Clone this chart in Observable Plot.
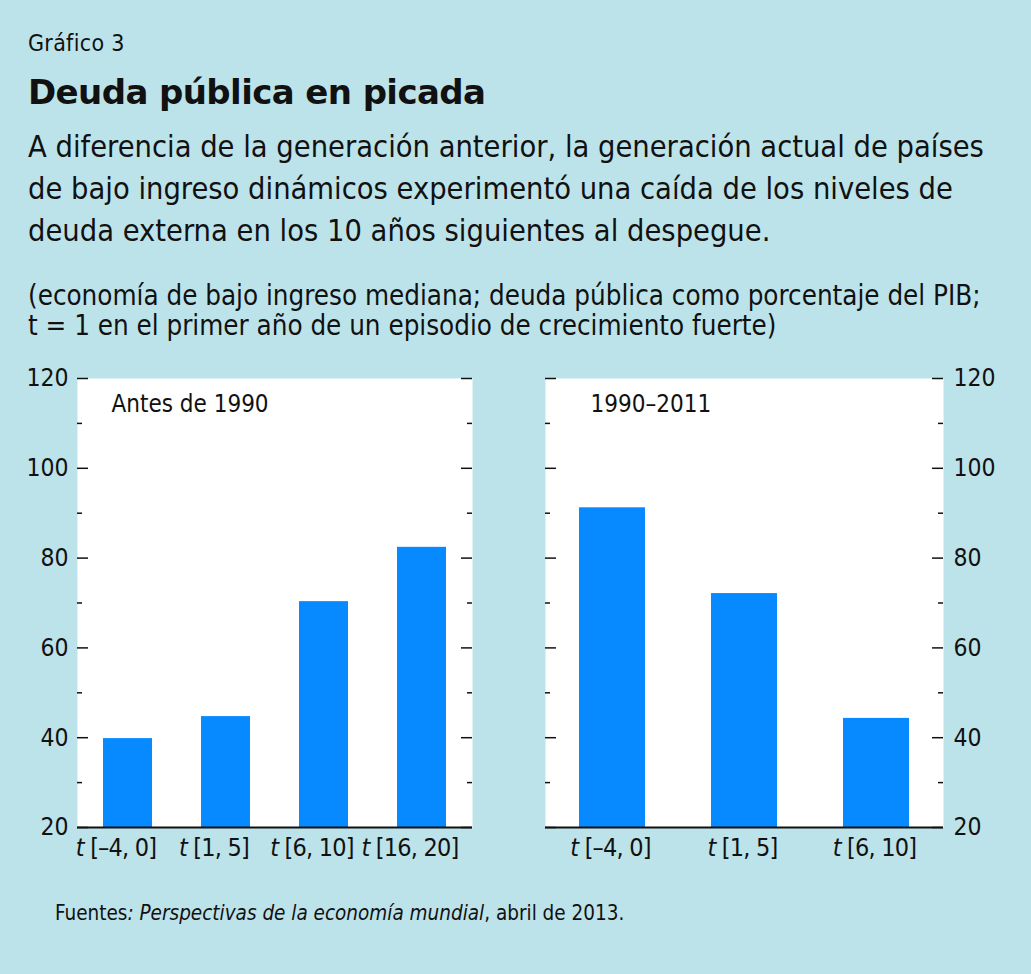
<!DOCTYPE html>
<html lang="es">
<head>
<meta charset="utf-8">
<script src="https://cdn.jsdelivr.net/npm/d3@7"></script>
<script src="https://cdn.jsdelivr.net/npm/@observablehq/plot@0.6"></script>
<style>
  html, body { margin: 0; padding: 0; }
  body { background: #bde3ea; }
  #page {
    position: relative; width: 1031px; height: 974px; background: #bde3ea;
    font-family: "DejaVu Sans Condensed", "Liberation Sans Narrow", sans-serif;
    color: #111;
  }
  .abs { position: absolute; white-space: nowrap; }
  #kicker { left: 28px; top: 30px; font-size: 23px; line-height: 26px; letter-spacing: 0.3px; }
  #title { left: 28px; top: 72px; font-family: "DejaVu Sans", sans-serif; font-weight: bold; font-size: 34px; line-height: 40px; letter-spacing: -0.6px; }
  #subtitle { left: 28px; top: 126px; font-size: 30.5px; line-height: 42px; }
  #note { left: 28px; top: 280px; font-size: 27.5px; line-height: 30px; }
  #source { left: 55px; top: 900px; font-size: 20.5px; line-height: 26px; }
  .panel { position: absolute; top: 350px; }
  #left { left: 0; }
  #right { left: 520px; }
</style>
</head>
<body>
<div id="page">
  <div id="kicker" class="abs">Gráfico 3</div>
  <div id="title" class="abs">Deuda pública en picada</div>
  <div id="subtitle" class="abs">A diferencia de la generación anterior, la generación actual de países<br>de bajo ingreso dinámicos experimentó una caída de los niveles de<br>deuda externa en los 10 años siguientes al despegue.</div>
  <div id="note" class="abs">(economía de bajo ingreso mediana; deuda pública como porcentaje del PIB;<br>t = 1 en el primer año de un episodio de crecimiento fuerte)</div>
  <div id="left" class="panel"></div>
  <div id="right" class="panel"></div>
  <div id="source" class="abs">Fuentes<i>: Perspectivas de la economía mundial</i>, abril de 2013.</div>
</div>
<script>
// Median public debt, % of GDP, by window around the start of a strong growth episode
const periodsBefore1990 = ["t [–4, 0]", "t [1, 5]", "t [6, 10]", "t [16, 20]"];
const debtBefore1990 = [39.8, 44.7, 70.3, 82.4];
const periods1990to2011 = ["t [–4, 0]", "t [1, 5]", "t [6, 10]"];
const debt1990to2011 = [91.2, 72.1, 44.3];
const panelTitles = ["Antes de 1990", "1990–2011"];

const yDomain = [20, 120];
const majorTicks = [20, 40, 60, 80, 100, 120];
const minorTicks = [30, 50, 70, 90, 110];

const barColor = "#0789ff";
const fontFamily = '"DejaVu Sans Condensed", "Liberation Sans Narrow", sans-serif';

function panel({periods, values, title, side, width, marginLeft, marginRight, labelDx, titleDx}) {
  const data = periods.map((p, i) => ({period: p, value: values[i]}));
  const height = 560;
  const marginTop = 28;
  const marginBottom = 83;
  const innerW = width - marginLeft - marginRight;
  const tickMarks = (ticks, len) => [
    Plot.tickY(ticks, {y: d => d, insetRight: innerW - len, stroke: "#111", strokeWidth: 1.5}),
    Plot.tickY(ticks, {y: d => d, insetLeft: innerW - len, stroke: "#111", strokeWidth: 1.5})
  ];
  const chart = Plot.plot({
    width, height, marginTop, marginBottom, marginLeft, marginRight,
    style: {background: "transparent", fontFamily, fontSize: "24px", color: "#111", overflow: "visible"},
    x: {domain: periods, paddingInner: 0.5, paddingOuter: 0.25, label: null},
    y: {domain: yDomain, label: null},
    marks: [
      Plot.frame({fill: "white", stroke: "none"}),
      Plot.barY(data, {x: "period", y1: yDomain[0], y2: "value", fill: barColor}),
      ...tickMarks(majorTicks, 11),
      ...tickMarks(minorTicks, 5),
      Plot.ruleY([yDomain[0]], {stroke: "#111", strokeWidth: 1.8}),
      Plot.axisY(majorTicks, {anchor: side, tickSize: 0, tickPadding: side === "left" ? 9 : 10, fontSize: 24.5, label: null}),
      Plot.axisX({tickSize: 0, tickPadding: 11, fontSize: 25, dx: labelDx, label: null}),
      Plot.text([title], {frameAnchor: "top-left", dx: titleDx, dy: 16, lineAnchor: "top", textAnchor: "start", fontSize: 24, fill: "#111"})
    ]
  });
  // italic "t" in the window labels, tighter spacing
  chart.querySelectorAll('[aria-label="x-axis tick label"] text').forEach(el => {
    const s = el.textContent;
    el.textContent = "";
    el.setAttribute("letter-spacing", "-0.8");
    const t = document.createElementNS("http://www.w3.org/2000/svg", "tspan");
    t.setAttribute("font-style", "italic");
    t.textContent = s.slice(0, 1);
    el.appendChild(t);
    el.appendChild(document.createTextNode(s.slice(1)));
  });
  return chart;
}

document.getElementById("left").appendChild(panel({
  periods: periodsBefore1990, values: debtBefore1990, title: panelTitles[0],
  side: "left", width: 520, marginLeft: 77, marginRight: 48, labelDx: -12, titleDx: 34
}));
document.getElementById("right").appendChild(panel({
  periods: periods1990to2011, values: debt1990to2011, title: panelTitles[1],
  side: "right", width: 511, marginLeft: 25, marginRight: 88, labelDx: -2, titleDx: 45
}));
</script>
</body>
</html>
